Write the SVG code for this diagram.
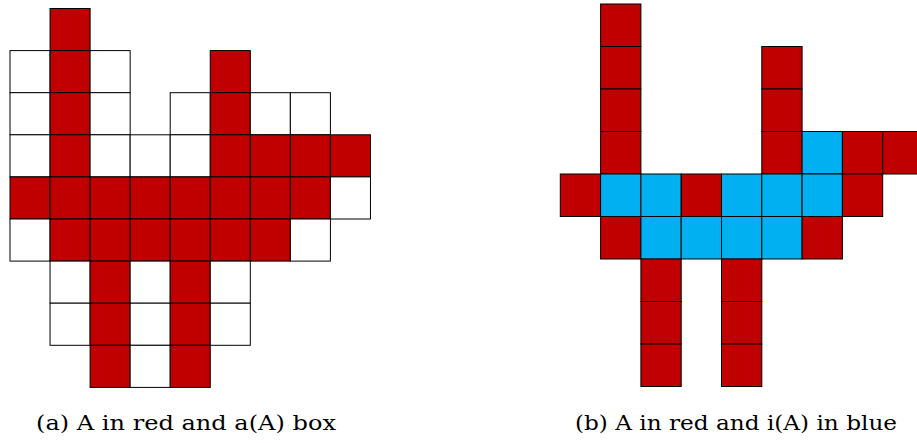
<svg xmlns="http://www.w3.org/2000/svg" width="917" height="443" viewBox="0 0 917 443">
<style>
.r{fill:#C00000;stroke:#000;stroke-width:1}
.w{fill:#fff;stroke:#000;stroke-width:1}
.b{fill:#00B0F0;stroke:#000;stroke-width:1}
.cap{font-family:"DejaVu Serif","Liberation Serif",serif;font-size:20px;fill:#000}
</style>
<rect width="917" height="443" fill="#fff"/>
<g id="figA">
<rect class="r" x="50.05" y="8.5" width="40.05" height="42.1"/>
<rect class="w" x="10" y="50.6" width="40.05" height="42.1"/>
<rect class="r" x="50.05" y="50.6" width="40.05" height="42.1"/>
<rect class="w" x="90.1" y="50.6" width="40.05" height="42.1"/>
<rect class="r" x="210.25" y="50.6" width="40.05" height="42.1"/>
<rect class="w" x="10" y="92.7" width="40.05" height="42.1"/>
<rect class="r" x="50.05" y="92.7" width="40.05" height="42.1"/>
<rect class="w" x="90.1" y="92.7" width="40.05" height="42.1"/>
<rect class="w" x="170.2" y="92.7" width="40.05" height="42.1"/>
<rect class="r" x="210.25" y="92.7" width="40.05" height="42.1"/>
<rect class="w" x="250.3" y="92.7" width="40.05" height="42.1"/>
<rect class="w" x="290.35" y="92.7" width="40.05" height="42.1"/>
<rect class="w" x="10" y="134.8" width="40.05" height="42.1"/>
<rect class="r" x="50.05" y="134.8" width="40.05" height="42.1"/>
<rect class="w" x="90.1" y="134.8" width="40.05" height="42.1"/>
<rect class="w" x="130.15" y="134.8" width="40.05" height="42.1"/>
<rect class="w" x="170.2" y="134.8" width="40.05" height="42.1"/>
<rect class="r" x="210.25" y="134.8" width="40.05" height="42.1"/>
<rect class="r" x="250.3" y="134.8" width="40.05" height="42.1"/>
<rect class="r" x="290.35" y="134.8" width="40.05" height="42.1"/>
<rect class="r" x="330.4" y="134.8" width="40.05" height="42.1"/>
<rect class="r" x="10" y="176.9" width="40.05" height="42.1"/>
<rect class="r" x="50.05" y="176.9" width="40.05" height="42.1"/>
<rect class="r" x="90.1" y="176.9" width="40.05" height="42.1"/>
<rect class="r" x="130.15" y="176.9" width="40.05" height="42.1"/>
<rect class="r" x="170.2" y="176.9" width="40.05" height="42.1"/>
<rect class="r" x="210.25" y="176.9" width="40.05" height="42.1"/>
<rect class="r" x="250.3" y="176.9" width="40.05" height="42.1"/>
<rect class="r" x="290.35" y="176.9" width="40.05" height="42.1"/>
<rect class="w" x="330.4" y="176.9" width="40.05" height="42.1"/>
<rect class="w" x="10" y="219" width="40.05" height="42.1"/>
<rect class="r" x="50.05" y="219" width="40.05" height="42.1"/>
<rect class="r" x="90.1" y="219" width="40.05" height="42.1"/>
<rect class="r" x="130.15" y="219" width="40.05" height="42.1"/>
<rect class="r" x="170.2" y="219" width="40.05" height="42.1"/>
<rect class="r" x="210.25" y="219" width="40.05" height="42.1"/>
<rect class="r" x="250.3" y="219" width="40.05" height="42.1"/>
<rect class="w" x="290.35" y="219" width="40.05" height="42.1"/>
<rect class="w" x="50.05" y="261.1" width="40.05" height="42.1"/>
<rect class="r" x="90.1" y="261.1" width="40.05" height="42.1"/>
<rect class="w" x="130.15" y="261.1" width="40.05" height="42.1"/>
<rect class="r" x="170.2" y="261.1" width="40.05" height="42.1"/>
<rect class="w" x="210.25" y="261.1" width="40.05" height="42.1"/>
<rect class="w" x="50.05" y="303.2" width="40.05" height="42.1"/>
<rect class="r" x="90.1" y="303.2" width="40.05" height="42.1"/>
<rect class="w" x="130.15" y="303.2" width="40.05" height="42.1"/>
<rect class="r" x="170.2" y="303.2" width="40.05" height="42.1"/>
<rect class="w" x="210.25" y="303.2" width="40.05" height="42.1"/>
<rect class="r" x="90.1" y="345.3" width="40.05" height="42.1"/>
<rect class="w" x="130.15" y="345.3" width="40.05" height="42.1"/>
<rect class="r" x="170.2" y="345.3" width="40.05" height="42.1"/>
</g>
<g id="figB">
<rect class="r" x="600.6" y="4" width="40.3" height="42.5"/>
<rect class="r" x="600.6" y="46.5" width="40.3" height="42.5"/>
<rect class="r" x="761.8" y="46.5" width="40.3" height="42.5"/>
<rect class="r" x="600.6" y="89" width="40.3" height="42.5"/>
<rect class="r" x="761.8" y="89" width="40.3" height="42.5"/>
<rect class="r" x="600.6" y="131.5" width="40.3" height="42.5"/>
<rect class="r" x="761.8" y="131.5" width="40.3" height="42.5"/>
<rect class="b" x="802.1" y="131.5" width="40.3" height="42.5"/>
<rect class="r" x="842.4" y="131.5" width="40.3" height="42.5"/>
<rect class="r" x="882.7" y="131.5" width="40.3" height="42.5"/>
<rect class="r" x="560.3" y="174" width="40.3" height="42.5"/>
<rect class="b" x="600.6" y="174" width="40.3" height="42.5"/>
<rect class="b" x="640.9" y="174" width="40.3" height="42.5"/>
<rect class="r" x="681.2" y="174" width="40.3" height="42.5"/>
<rect class="b" x="721.5" y="174" width="40.3" height="42.5"/>
<rect class="b" x="761.8" y="174" width="40.3" height="42.5"/>
<rect class="b" x="802.1" y="174" width="40.3" height="42.5"/>
<rect class="r" x="842.4" y="174" width="40.3" height="42.5"/>
<rect class="r" x="600.6" y="216.5" width="40.3" height="42.5"/>
<rect class="b" x="640.9" y="216.5" width="40.3" height="42.5"/>
<rect class="b" x="681.2" y="216.5" width="40.3" height="42.5"/>
<rect class="b" x="721.5" y="216.5" width="40.3" height="42.5"/>
<rect class="b" x="761.8" y="216.5" width="40.3" height="42.5"/>
<rect class="r" x="802.1" y="216.5" width="40.3" height="42.5"/>
<rect class="r" x="640.9" y="259" width="40.3" height="42.5"/>
<rect class="r" x="721.5" y="259" width="40.3" height="42.5"/>
<rect class="r" x="640.9" y="301.5" width="40.3" height="42.5"/>
<rect class="r" x="721.5" y="301.5" width="40.3" height="42.5"/>
<rect class="r" x="640.9" y="344" width="40.3" height="42.5"/>
<rect class="r" x="721.5" y="344" width="40.3" height="42.5"/>
</g>
<g id="captions">
<text class="cap" x="36" y="430" textLength="300" lengthAdjust="spacingAndGlyphs">(a) A in red and a(A) box</text>
<text class="cap" x="575" y="430" textLength="322" lengthAdjust="spacingAndGlyphs">(b) A in red and i(A) in blue</text>
</g>
</svg>
